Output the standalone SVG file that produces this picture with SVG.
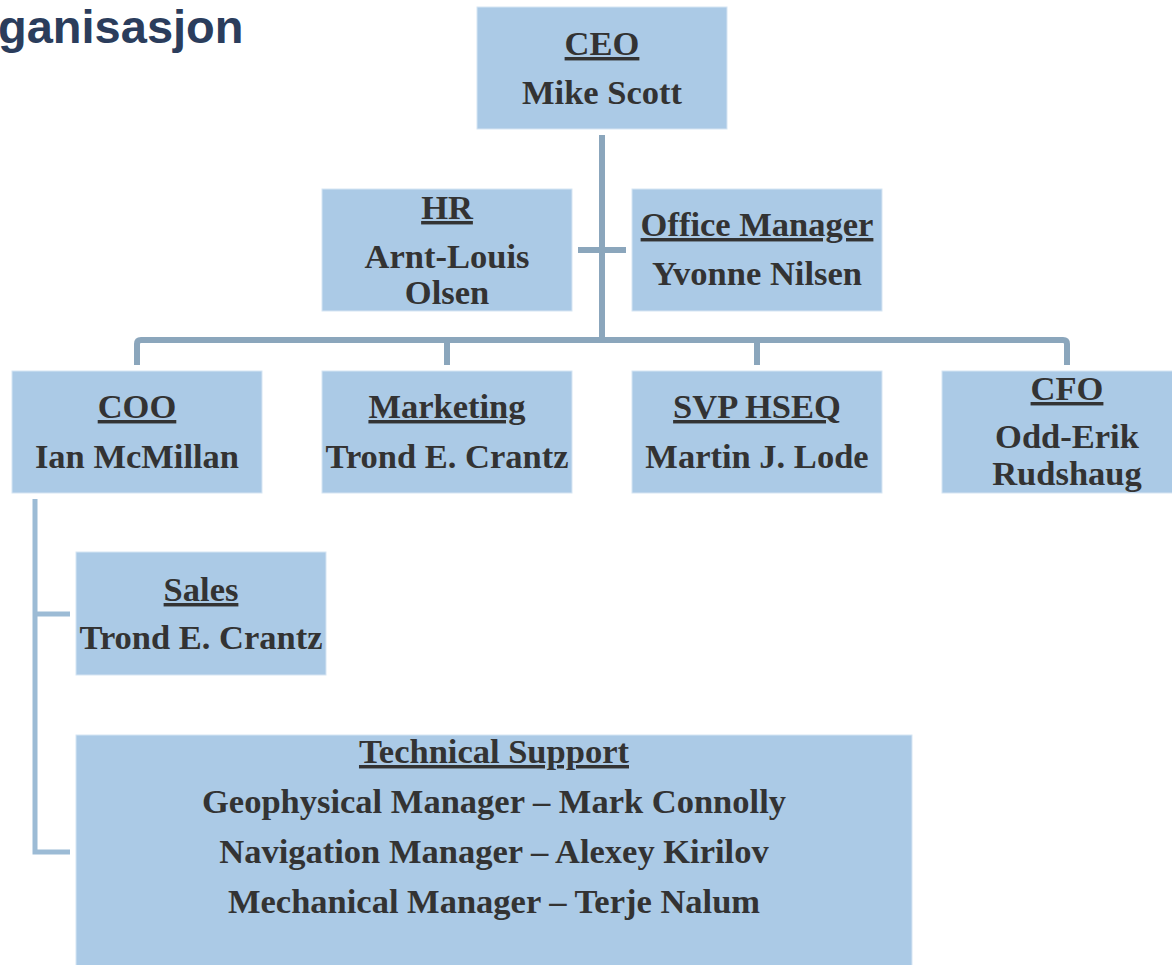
<svg xmlns="http://www.w3.org/2000/svg" width="1172" height="965" viewBox="0 0 1172 965">
<style>
.box{fill:#abcae6;stroke:#d6e5f3;stroke-width:1}
.t{font-family:"Liberation Serif","Times New Roman",serif;font-weight:bold;font-size:34.5px;fill:#333333;text-anchor:middle}
.u{text-decoration:underline}
.c1{fill:none;stroke:#8ba6bc;stroke-width:6}
.c2{fill:none;stroke:#9cbbd5;stroke-width:5}
</style>
<rect width="1172" height="965" fill="#ffffff"/>
<text x="-2" y="43" font-family="Liberation Sans, Arial, sans-serif" font-weight="bold" font-size="47" fill="#2b3d5c">ganisasjon</text>
<g id="connectors">
<path class="c1" d="M602,135 V340"/>
<path class="c1" d="M578,250 H626"/>
<path class="c1" d="M137,365 V344 Q137,340 141,340 H1063 Q1067,340 1067,344 V365"/>
<path class="c1" d="M447,340 V365"/>
<path class="c1" d="M757,340 V365"/>
<path class="c2" d="M35,499 V852 H70"/>
<path class="c2" d="M35,614 H70"/>
</g>
<g id="ceo">
<rect class="box" x="477" y="7" width="250" height="122"/>
<text class="t u" x="602" y="55">CEO</text>
<text class="t" x="602" y="104">Mike Scott</text>
</g>
<g id="hr">
<rect class="box" x="322" y="189" width="250" height="122"/>
<text class="t u" x="447" y="219">HR</text>
<text class="t" x="447" y="268">Arnt-Louis</text>
<text class="t" x="447" y="304">Olsen</text>
</g>
<g id="office-manager">
<rect class="box" x="632" y="189" width="250" height="122"/>
<text class="t u" x="757" y="236">Office Manager</text>
<text class="t" x="757" y="285">Yvonne Nilsen</text>
</g>
<g id="coo">
<rect class="box" x="12" y="371" width="250" height="122"/>
<text class="t u" x="137" y="418">COO</text>
<text class="t" x="137" y="468">Ian McMillan</text>
</g>
<g id="marketing">
<rect class="box" x="322" y="371" width="250" height="122"/>
<text class="t u" x="447" y="418">Marketing</text>
<text class="t" x="447" y="468">Trond E. Crantz</text>
</g>
<g id="svp-hseq">
<rect class="box" x="632" y="371" width="250" height="122"/>
<text class="t u" x="757" y="418">SVP HSEQ</text>
<text class="t" x="757" y="468">Martin J. Lode</text>
</g>
<g id="cfo">
<rect class="box" x="942" y="371" width="250" height="122"/>
<text class="t u" x="1067" y="400">CFO</text>
<text class="t" x="1067" y="448">Odd-Erik</text>
<text class="t" x="1067" y="485">Rudshaug</text>
</g>
<g id="sales">
<rect class="box" x="76" y="552" width="250" height="123"/>
<text class="t u" x="201" y="601">Sales</text>
<text class="t" x="201" y="649">Trond E. Crantz</text>
</g>
<g id="technical-support">
<rect class="box" x="76" y="735" width="836" height="240"/>
<text class="t u" x="494" y="763">Technical Support</text>
<text class="t" x="494" y="813">Geophysical Manager – Mark Connolly</text>
<text class="t" x="494" y="863">Navigation Manager – Alexey Kirilov</text>
<text class="t" x="494" y="913">Mechanical Manager – Terje Nalum</text>
</g>
</svg>
